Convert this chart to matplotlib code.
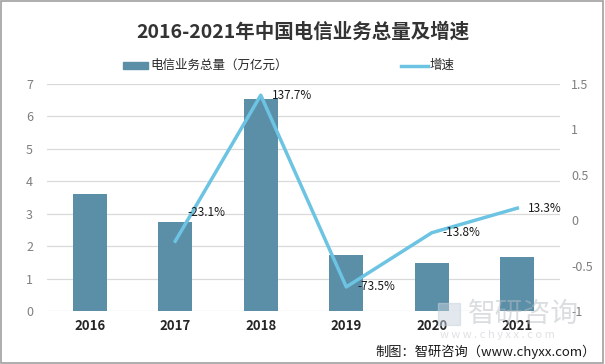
import matplotlib
matplotlib.use("Agg")
import matplotlib.pyplot as plt
from matplotlib.patches import Rectangle

plt.rcParams['font.family'] = ['Noto Sans CJK SC', 'DejaVu Sans']

years = ["2016", "2017", "2018", "2019", "2020", "2021"]
volume = [3.6, 2.75, 6.55, 1.73, 1.48, 1.67]
growth_years = ["2017", "2018", "2019", "2020", "2021"]
growth = [-0.231, 1.377, -0.735, -0.138, 0.133]
growth_labels = ["-23.1%", "137.7%", "-73.5%", "-13.8%", "13.3%"]
left_ticks = [0, 1, 2, 3, 4, 5, 6, 7]
right_ticks = [-1, -0.5, 0, 0.5, 1, 1.5]
right_tick_labels = ["-1", "-0.5", "0", "0.5", "1", "1.5"]

bar_color = "#5b8ea7"
line_color = "#6cc4e2"

fig = plt.figure(figsize=(6.05, 3.64), dpi=100)
fig.patch.set_facecolor("white")
fig.add_artist(Rectangle((0.002, 0.003), 0.995, 0.994, transform=fig.transFigure,
                         fill=False, edgecolor="#a0a0a0", linewidth=1.2))

ax = fig.add_axes([0.0777, 0.1456, 0.848, 0.6236])
x = list(range(len(years)))
ax.bar(x, volume, width=0.4, color=bar_color, zorder=2)
ax.set_ylim(0, 7)
ax.set_xlim(-0.5, len(years) - 0.5)
ax.set_yticks(left_ticks)
ax.set_yticklabels([str(t) for t in left_ticks], color="#7f7f7f", fontsize=9)
ax.set_xticks(x)
ax.set_xticklabels(years, fontsize=9.5, fontweight="bold", color="#262626")
ax.grid(axis="y", color="#d9d9d9", linewidth=0.9, zorder=0)
for s in ax.spines.values():
    s.set_visible(False)
ax.tick_params(axis="both", length=0)
ax.tick_params(axis="y", pad=10)
ax.tick_params(axis="x", pad=6)

ax2 = ax.twinx()
gx = [years.index(y) for y in growth_years]
ax2.plot(gx, growth, color=line_color, linewidth=2.5, zorder=3)
ax2.set_ylim(-1, 1.5)
ax2.set_yticks(right_ticks)
ax2.set_yticklabels(right_tick_labels, color="#7f7f7f", fontsize=9)
for s in ax2.spines.values():
    s.set_visible(False)
ax2.tick_params(axis="y", length=0, pad=8)

offsets = [(9, 21), (8, 0), (8, 0), (8, 0), (8, 0)]
for xi, yi, lab, off in zip(gx, growth, growth_labels, offsets):
    ax2.annotate(lab, (xi, yi), xytext=off, textcoords="offset points",
                 fontsize=8.5, color="#1a1a1a", ha="left", va="center", zorder=5)

fig.text(0.5, 1 - 32 / 364, "2016-2021年中国电信业务总量及增速", ha="center", va="center",
         fontsize=14, fontweight="bold", color="#333333")

# legend
fig.add_artist(Rectangle((123 / 605, 1 - 69 / 364), 25 / 605, 7 / 364,
                         transform=fig.transFigure, color=bar_color))
fig.text(150 / 605, 1 - 65 / 364, "电信业务总量（万亿元）", ha="left", va="center",
         fontsize=9, color="#262626")
fig.add_artist(plt.Line2D([401 / 605, 428 / 605], [1 - 66 / 364, 1 - 66 / 364],
                          transform=fig.transFigure, color=line_color, linewidth=2.5))
fig.text(430 / 605, 1 - 65 / 364, "增速", ha="left", va="center",
         fontsize=9, color="#262626")

# watermark
fig.add_artist(Rectangle((438 / 605, 1 - 325 / 364), 22 / 605, 22 / 364,
                         transform=fig.transFigure, color="#c8d3de", alpha=0.5, zorder=10))
fig.text(468 / 605, 1 - 314 / 364, "智研咨询", ha="left", va="center",
         fontsize=20, color="#b8bec4", alpha=0.5, zorder=10)
fig.text(440 / 605, 1 - 335 / 364, "w w w . c h y x x . c o m", ha="left", va="center",
         fontsize=8, color="#c8cdd2", alpha=0.6, zorder=10)

fig.text(0.985, 1 - 352 / 364, "制图：智研咨询（www.chyxx.com）", ha="right", va="center",
         fontsize=9.5, color="#1a1a1a")

fig.savefig("out.png", dpi=100)
